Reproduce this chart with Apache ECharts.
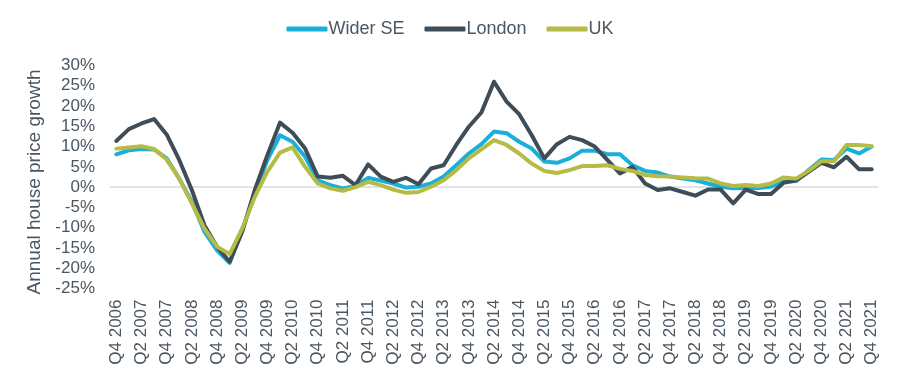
<!DOCTYPE html>
<html>
<head>
<meta charset="utf-8">
<script src="https://cdn.jsdelivr.net/npm/echarts@6/dist/echarts.min.js"></script>
<style>html,body{margin:0;padding:0;background:#fff;}#c{width:900px;height:380px;}</style>
</head>
<body>
<div id="c"></div>
<script>
const categories = [
 'Q4 2006',
 'Q1 2007','Q2 2007','Q3 2007','Q4 2007',
 'Q1 2008','Q2 2008','Q3 2008','Q4 2008',
 'Q1 2009','Q2 2009','Q3 2009','Q4 2009',
 'Q1 2010','Q2 2010','Q3 2010','Q4 2010',
 'Q1 2011','Q2 2011','Q3 2011','Q4 2011',
 'Q1 2012','Q2 2012','Q3 2012','Q4 2012',
 'Q1 2013','Q2 2013','Q3 2013','Q4 2013',
 'Q1 2014','Q2 2014','Q3 2014','Q4 2014',
 'Q1 2015','Q2 2015','Q3 2015','Q4 2015',
 'Q1 2016','Q2 2016','Q3 2016','Q4 2016',
 'Q1 2017','Q2 2017','Q3 2017','Q4 2017',
 'Q1 2018','Q2 2018','Q3 2018','Q4 2018',
 'Q1 2019','Q2 2019','Q3 2019','Q4 2019',
 'Q1 2020','Q2 2020','Q3 2020','Q4 2020',
 'Q1 2021','Q2 2021','Q3 2021','Q4 2021'
];
const widerSE = [8.1,9.1,9.4,9.3,7.1,2.1,-3.6,-11.0,-15.6,-18.7,-10.6,-1.6,6.7,12.8,11.2,7.5,1.7,0.5,-0.3,0.3,
 2.3,1.6,0.9,-0.1,0.1,0.9,2.6,5.4,8.3,10.6,13.7,13.3,11.2,9.5,6.3,6.0,7.1,9.0,9.0,8.1,
 8.1,5.4,4.0,3.6,2.6,2.1,1.7,0.9,0.1,-0.3,-0.2,-0.2,0.1,1.3,1.5,4.2,6.8,6.7,9.5,8.3,10.0];
const london = [11.4,14.3,15.7,16.8,13.0,6.7,-0.7,-9.4,-14.7,-18.4,-11.0,-0.7,7.9,15.9,13.4,9.5,2.6,2.3,2.8,0.5,
 5.6,2.6,1.3,2.3,0.7,4.6,5.4,10.4,14.9,18.4,26.0,21.1,18.0,12.8,7.1,10.6,12.4,11.6,10.0,6.7,
 3.4,5.0,0.9,-0.7,-0.3,-1.2,-2.1,-0.6,-0.6,-4.0,-0.6,-1.7,-1.7,1.1,1.7,3.8,6.0,4.9,7.5,4.4,4.4];
const uk = [9.5,9.8,10.1,9.4,6.8,2.1,-4.0,-10.2,-14.7,-16.5,-10.2,-2.4,3.8,8.5,9.8,5.0,0.9,-0.3,-0.9,0.0,
 1.3,0.5,-0.6,-1.4,-1.2,0.1,1.7,4.2,7.1,9.3,11.6,10.4,8.3,5.8,4.0,3.5,4.2,5.2,5.2,5.4,
 4.5,4.0,3.0,2.7,2.6,2.4,2.2,2.1,0.9,0.3,0.5,0.3,0.9,2.4,2.1,4.0,6.4,6.4,10.4,10.4,10.1];

const yMin = -25, yMax = 30, yStep = 5;
const txt = '#4A5660';
const font = '"Liberation Sans", Arial, sans-serif';

const chart = echarts.init(document.getElementById('c'), null, {renderer: 'canvas'});
const mk = (name, data, color) => ({
  name, type: 'line', data, xAxisIndex: 0,
  symbol: 'none', showSymbol: false, smooth: false,
  lineStyle: {color, width: 4, cap: 'round', join: 'round'},
  itemStyle: {color},
  emphasis: {disabled: true}
});
chart.setOption({
  animation: false,
  backgroundColor: '#fff',
  textStyle: {fontFamily: font},
  legend: {
    top: 15, left: 'center',
    itemWidth: 41, itemHeight: 5, itemGap: 20, icon: 'roundRect',
    textStyle: {color: txt, fontSize: 18, fontFamily: font, padding: [0, 0, 0, -4]},
    data: ['Wider SE', 'London', 'UK']
  },
  grid: {left: 110, right: 22, top: 65.5, bottom: 91.5, containLabel: false, outerBoundsMode: 'none'},
  xAxis: [{
    type: 'category', data: categories, boundaryGap: true, position: 'bottom',
    axisLine: {show: false, onZero: false}, axisTick: {show: false},
    axisLabel: {interval: 1, rotate: 90, margin: 11, color: txt, fontSize: 17, fontFamily: font}
  }, {
    type: 'category', data: categories, boundaryGap: true, position: 'top',
    axisLine: {show: true, onZero: true, lineStyle: {color: '#D9DDE1', width: 1.5}},
    axisTick: {show: false}, axisLabel: {show: false}
  }],
  yAxis: {
    type: 'value', min: yMin, max: yMax, interval: yStep,
    name: 'Annual house price growth', nameLocation: 'middle', nameGap: 54, nameRotate: 90,
    nameTextStyle: {color: txt, fontSize: 19, fontFamily: font, padding: [0, 10, 0, 0]},
    axisLine: {show: false}, axisTick: {show: false}, splitLine: {show: false},
    axisLabel: {formatter: '{value}%', color: txt, fontSize: 17, margin: 15, fontFamily: font}
  },
  series: [
    mk('Wider SE', widerSE, '#1AAFDA'),
    mk('London', london, '#3E4D58'),
    mk('UK', uk, '#B5BB45')
  ]
});
</script>
</body>
</html>
